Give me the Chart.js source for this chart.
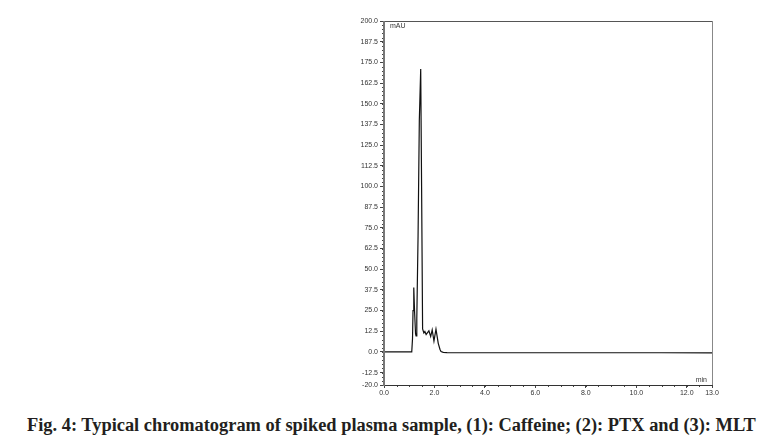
<!DOCTYPE html>
<html>
<head>
<meta charset="utf-8">
<script src="https://cdn.jsdelivr.net/npm/chart.js@4"></script>
<style>
  html, body { margin: 0; padding: 0; background: #fff; }
  body { width: 767px; height: 448px; position: relative; overflow: hidden; }
  #wrap { position: absolute; left: 0; top: 0; width: 767px; height: 400px; }
  #cap { position: absolute; left: 27px; top: 415px; font-family: "Liberation Serif", "Times New Roman", serif; font-weight: bold; font-size: 18.4px; line-height: 1.107; color: #231f20; white-space: nowrap; }
</style>
</head>
<body>
<div id="wrap"><canvas id="c" width="767" height="400"></canvas></div>
<div id="cap">Fig. 4: Typical chromatogram of spiked plasma sample, (1): Caffeine; (2): PTX and (3): MLT</div>
<script>
// Retention time (min) and absorbance (mAU)
const times = [0, 1.10, 1.13, 1.15, 1.18, 1.21, 1.25, 1.27, 1.30, 1.35, 1.40, 1.455, 1.49, 1.53, 1.58, 1.62, 1.67, 1.71, 1.78, 1.85, 1.91, 1.98, 2.06, 2.15, 2.22, 2.26, 2.35, 2.5, 3.0, 5.0, 8.0, 11.0, 13.0];
const absorbance = [0, 0, 8, 25, 38.9, 25, 11, 9.7, 20, 70, 140, 171, 100, 13.9, 11.5, 12.3, 10.5, 11.3, 12.7, 9.3, 13.3, 6.6, 13.7, 5.2, 1.5, 0.2, -0.3, -0.4, -0.5, -0.5, -0.5, -0.5, -0.6];
const xTicks = [0, 2, 4, 6, 8, 10, 12, 13];
const yTicks = [200, 187.5, 175, 162.5, 150, 137.5, 125, 112.5, 100, 87.5, 75, 62.5, 50, 37.5, 25, 12.5, 0, -12.5, -20];
const yUnit = "mAU";
const xUnit = "min";

const points = times.map((t, i) => ({ x: t, y: absorbance[i] }));

const frame = {
  id: 'frame',
  afterDraw(chart) {
    const { ctx, chartArea: a, scales } = chart;
    ctx.save();
    // minor ticks
    ctx.strokeStyle = '#444';
    ctx.lineWidth = 1;
    ctx.beginPath();
    for (let v = -20; v <= 200; v += 2.5) {
      const y = Math.round(scales.y.getPixelForValue(v)) + 0.5;
      ctx.moveTo(a.left - 2, y); ctx.lineTo(a.left, y);
    }
    for (let v = 0; v <= 13; v += 0.5) {
      const x = Math.round(scales.x.getPixelForValue(v)) + 0.5;
      ctx.moveTo(x, a.bottom); ctx.lineTo(x, a.bottom + 2);
    }
    ctx.stroke();
    // box
    ctx.lineWidth = 1;
    ctx.strokeStyle = '#555';
    ctx.beginPath(); ctx.moveTo(a.left, a.top + 0.5); ctx.lineTo(a.right + 0.5, a.top + 0.5); ctx.stroke();
    ctx.strokeStyle = '#888';
    ctx.beginPath(); ctx.moveTo(a.right + 0.5, a.top); ctx.lineTo(a.right + 0.5, a.bottom); ctx.stroke();
    ctx.strokeStyle = '#333';
    ctx.beginPath(); ctx.moveTo(a.left, a.bottom + 0.5); ctx.lineTo(a.right + 0.5, a.bottom + 0.5); ctx.stroke();
    ctx.lineWidth = 2;
    ctx.strokeStyle = '#777';
    ctx.beginPath(); ctx.moveTo(a.left, a.top); ctx.lineTo(a.left, a.bottom + 1); ctx.stroke();
    // units
    ctx.fillStyle = '#333';
    ctx.font = '7px "Liberation Sans", Arial, sans-serif';
    ctx.textBaseline = 'middle';
    ctx.textAlign = 'left';
    ctx.fillText(yUnit, a.left + 6, a.top + 5);
    ctx.textAlign = 'right';
    ctx.fillText(xUnit, a.right - 5, a.bottom - 5);
    ctx.restore();
  }
};

new Chart(document.getElementById('c'), {
  type: 'line',
  data: { datasets: [{ data: points, borderColor: '#111', borderWidth: 1.2, pointRadius: 0, tension: 0, fill: false }] },
  options: {
    responsive: false,
    animation: false,
    events: [],
    layout: { padding: { top: 21, right: 55, left: 0, bottom: 0 } },
    plugins: { legend: { display: false }, tooltip: { enabled: false } },
    scales: {
      x: {
        type: 'linear', min: 0, max: 13,
        afterBuildTicks: s => { s.ticks = xTicks.map(v => ({ value: v })); },
        afterFit: s => { s.height = 15; },
        grid: { drawOnChartArea: false, drawTicks: true, tickLength: 3, color: '#444' },
        border: { display: false },
        ticks: { autoSkip: false, maxRotation: 0, padding: 1, color: '#333', font: { family: '"Liberation Sans", Arial, sans-serif', size: 7 }, callback: v => v.toFixed(1) }
      },
      y: {
        type: 'linear', min: -20, max: 200,
        afterBuildTicks: s => { s.ticks = yTicks.map(v => ({ value: v })); },
        afterFit: s => { s.width = 384; },
        grid: { drawOnChartArea: false, drawTicks: true, tickLength: 4, color: '#444' },
        border: { display: false },
        ticks: { autoSkip: false, padding: 2, color: '#333', font: { family: '"Liberation Sans", Arial, sans-serif', size: 7 }, callback: v => v.toFixed(1) }
      }
    }
  },
  plugins: [frame]
});
</script>
</body>
</html>
